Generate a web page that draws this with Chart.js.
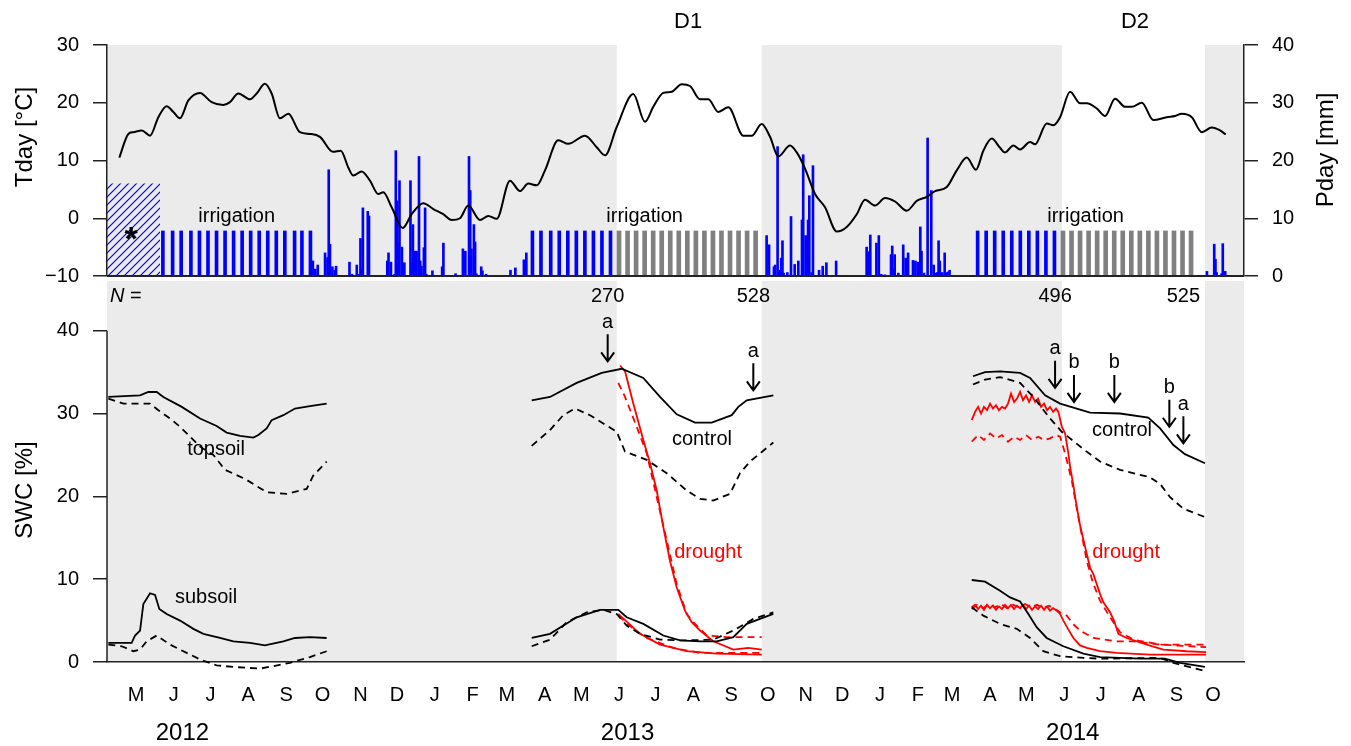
<!DOCTYPE html>
<html><head><meta charset="utf-8">
<script src="https://cdn.jsdelivr.net/npm/chart.js"></script>
<style>
html,body{margin:0;padding:0;background:#fff;}
#wrap{position:relative;width:1351px;height:746px;overflow:hidden;}
canvas{position:absolute;left:0;top:0;}
</style></head><body>
<div id="wrap"><canvas id="topc" width="1351" height="746"></canvas><canvas id="botc" width="1351" height="746"></canvas></div>
<script>
// ---------------- DATA (x = days since 2012-01-01) ----------------
const monthTicks = [121,152,182,213,244,274,305,335,366,397,425,456,486,517,547,578,609,639,670,700,731,762,790,821,851,882,912,943,974,1004];
const monthLabels = ['M','J','J','A','S','O','N','D','J','F','M','A','M','J','J','A','S','O','N','D','J','F','M','A','M','J','J','A','S','O'];
const yearLabels = ['2012','2013','2014'];
const yearDays = [159, 524, 889];
const tempTicks = [-10,0,10,20,30];
const precipTicks = [0,10,20,30,40];
const swcTicks = [0,10,20,30,40];

const droughtStart = [515.1, 880.2];
const droughtEnd = [634.0, 997.4];
const droughtLabels = ['D1','D2'];
const droughtLabelDays = [573.6, 940.0];

// daily air temperature (smoothed)
const tempDay = [107.3,114.7,118.8,125.7,132.5,139.3,146.1,151.6,157.0,163.9,173.4,183.0,192.6,198.0,204.9,214.4,219.9,226.7,232.2,239.0,245.9,255.4,263.6,271.8,282.5,288.9,295.0,299.1,306.0,312.8,319.6,323.7,330.6,339.6,347.0,356.5,364.7,372.9,379.8,386.6,393.4,403.0,409.8,416.7,427.6,435.8,442.6,449.5,456.3,467.2,475.4,489.1,498.7,505.5,515.1,528.7,538.3,545.1,553.3,560.2,568.4,575.2,583.4,590.2,598.4,606.6,618.9,625.8,634.0,640.8,647.6,657.2,662.7,669.5,677.7,685.9,695.5,703.7,711.9,718.7,726.9,735.1,743.3,752.9,761.1,769.3,776.1,785.7,793.9,802.1,809.7,815.7,822.6,829.4,833.5,840.3,845.8,854.0,858.1,867.7,873.1,878.6,886.8,895.0,900.5,908.7,915.5,923.7,931.9,937.4,945.6,955.1,966.1,972.9,978.4,986.6,994.8,1003.0,1009.8,1014.4];
const tempVal = [10.5,14.6,14.9,15.2,14.3,17.5,19.4,18.4,17.3,20.4,21.7,20.1,19.6,20.1,21.6,20.6,21.6,23.3,21.6,17.3,18.1,14.9,14.6,14.1,11.5,11.7,8.8,7.4,8.1,6.5,4.2,4.5,1.9,-1.7,0.7,2.6,1.6,0.7,-0.3,0.0,2.2,-0.3,0.4,-0.1,6.5,4.7,6.0,5.7,8.3,13.5,12.9,14.3,12.3,10.9,15.8,21.5,16.7,19.3,21.7,21.9,23.2,22.9,20.6,20.6,18.4,19.2,14.3,14.3,16.3,14.1,10.7,12.6,11.4,8.6,4.2,1.9,-2.3,-1.5,0.7,3.2,2.2,3.5,2.9,1.3,3.0,3.7,4.7,5.4,8.3,10.5,8.4,11.7,13.8,12.2,11.4,12.6,11.9,13.2,12.8,16.4,16.1,17.5,21.9,19.9,19.9,19.0,17.7,20.7,19.3,19.3,20.0,17.0,17.5,17.7,18.1,17.5,14.9,15.7,15.2,14.5];

// daily precipitation
const rainDay = [266,268,270,276,278,279,280,282,284,285,296,298,302,303,305,306,307,311,312,327,328,330,333,334,335,336,337,339,341,346,347,348,350,351,353,354,355,357,358,359,364,372,373,383,389,391,394,395,396,398,399,400,404,405,408,428,432,439,441,638,640,644,645,647,648,650,651,652,655,658,661,664,667,668,670,671,672,673,675,676,681,684,687,695,720,721,723,728,730,732,735,740,741,742,743,746,750,752,754,758,760,762,764,765,767,770,773,775,777,778,779,780,782,784,785,787,788,999,1005,1006,1007,1011,1012,1014];
const rainMm = [2.6,1.2,1.9,4.0,3.2,18.4,5.5,1.6,1.0,1.7,2.4,0.3,1.9,0.3,6.5,1.2,11.8,11.2,10.4,2.6,4.0,2.4,0.3,21.7,13.0,5.8,16.5,5.0,2.3,16.5,2.3,8.9,4.3,4.3,20.7,2.6,1.7,4.9,11.8,0.3,0.9,1.6,5.7,0.4,4.7,4.3,20.7,14.8,4.7,8.9,5.9,0.4,1.6,0.9,0.3,1.0,1.4,2.8,4.0,7.0,5.4,1.6,1.9,22.4,1.0,3.1,6.1,0.5,0.6,10.3,2.0,2.6,9.7,21.0,7.0,6.0,9.7,13.9,0.6,19.1,1.0,1.7,2.3,2.6,5.0,4.2,7.1,5.7,7.0,0.3,0.2,3.7,5.2,1.2,3.7,0.5,5.4,3.1,4.0,2.7,2.6,2.4,8.5,4.3,0.5,23.9,14.8,1.9,0.5,0.6,6.1,2.6,0.6,4.0,0.6,0.7,1.0,0.8,5.5,2.9,0.6,0.4,5.6,0.8];

// weekly irrigation (all plots = blue, control plots only = grey)
const irrigationAllDays = [143,151,158,166,173,180,187,194,201,208,215,222,229,236,243,251,257,264,446,453,461,468,475,482,489,496,503,510,811,818,825,832,839,846,853,860,867,874];
const irrigationCtrlDays = [517,524,531,538,545,552,559,566,573,580,587,594,601,608,615,622,629,881,888,895,902,909,916,923,930,937,944,951,958,965,972,979,986];
const irrigationMm = 7.8;
const irrigationLabelDays = [203.5, 538.0, 899.5];
const irrigationLabelMm = 10.3;
const hatchDays = [95.0, 140.7];
const hatchMm = 16.0;
const starDay = 116.9;

// soil water content [%] : [day, value]
const top12Solid = [[98.3,32.0],[124.3,32.2],[131.1,32.6],[138.0,32.6],[143.4,32.0],[158.5,30.8],[173.5,29.4],[187.1,28.5],[195.3,27.7],[206.3,27.3],[217.2,27.1],[221.3,27.4],[228.1,28.2],[232.2,29.2],[241.8,29.8],[251.3,30.6],[263.6,30.9],[277.3,31.2]];
const top12Dashed = [[98.3,31.8],[110.6,31.2],[132.5,31.2],[139.3,30.4],[148.9,29.4],[157.1,28.4],[165.3,27.2],[173.5,26.0],[184.4,25.0],[194.0,23.2],[210.4,22.1],[228.1,20.5],[244.5,20.3],[260.9,20.9],[266.3,22.5],[277.3,24.2]];
const sub12Solid = [[98.3,2.3],[117.4,2.3],[120.2,3.2],[124.3,3.8],[127.0,7.0],[132.5,8.3],[136.6,8.1],[140.1,6.4],[146.1,5.8],[157.1,5.0],[168.0,4.0],[176.2,3.4],[189.8,2.9],[200.8,2.5],[214.4,2.3],[226.7,2.0],[241.8,2.5],[251.3,2.9],[263.6,3.0],[277.3,2.9]];
const sub12Dashed = [[98.3,2.1],[109.3,1.9],[118.8,1.3],[124.3,1.5],[129.7,2.5],[138.0,3.2],[148.9,2.1],[159.8,1.3],[173.5,0.3],[187.1,-0.4],[200.8,-0.6],[222.6,-0.8],[233.6,-0.5],[247.2,-0.1],[263.6,0.6],[277.3,1.3]];

const top13Ctrl = [[445.4,31.6],[460.4,32.0],[482.3,33.7],[502.8,34.9],[519.2,35.4],[536.9,34.3],[550.6,32.0],[564.3,29.9],[579.3,28.9],[593.0,28.9],[609.4,29.8],[614.8,30.8],[621.7,31.6],[643.5,32.2]];
const top13CtrlD = [[445.4,26.1],[460.4,28.0],[471.3,29.8],[480.9,30.6],[493.2,29.8],[504.1,28.8],[515.1,27.8],[521.9,25.4],[539.7,24.4],[556.1,22.8],[572.5,20.7],[583.4,19.7],[594.3,19.5],[608.0,20.3],[616.2,22.8],[624.4,24.2],[643.5,26.5]];
const top13Drt = [[517.8,35.8],[521.9,35.1],[528.7,31.2],[536.9,26.8],[542.4,24.0],[547.9,20.7],[553.3,16.3],[558.8,12.2],[564.3,9.0],[571.1,6.2],[576.6,4.8],[583.4,3.8],[594.3,2.5],[610.7,1.5],[623.0,1.7],[634.0,1.5]];
const top13DrtD = [[516.4,33.7],[521.9,32.0],[531.5,28.4],[539.7,25.2],[547.9,19.9],[556.1,14.7],[564.3,9.4],[572.5,5.8],[577.9,4.8],[588.9,3.2],[605.3,3.0],[634.0,3.0]];
const sub13Ctrl = [[445.4,2.9],[460.4,3.4],[482.3,5.4],[501.4,6.3],[516.4,6.3],[523.3,5.4],[536.9,4.6],[553.3,3.2],[567.0,2.6],[583.4,2.5],[597.1,2.5],[610.7,3.0],[621.7,4.6],[643.5,5.8]];
const sub13CtrlD = [[445.4,1.9],[460.4,2.7],[474.1,4.8],[490.5,6.0],[504.1,6.3],[515.1,5.8],[523.3,4.4],[534.2,3.4],[550.6,2.7],[569.7,2.6],[594.3,2.7],[610.7,3.8],[627.1,5.2],[643.5,6.0]];
const sub13Drt = [[516.4,5.8],[534.2,3.4],[550.6,2.1],[572.5,1.3],[597.1,1.0],[634.0,0.9]];
const sub13DrtD = [[516.4,5.6],[528.7,4.0],[539.7,2.9],[561.5,1.7],[583.4,1.1],[634.0,1.1]];

const top14Ctrl = [[807.2,34.5],[817.1,35.0],[829.4,35.1],[845.8,34.9],[854.0,34.3],[866.3,32.2],[878.6,31.2],[903.2,30.1],[927.8,30.0],[950.9,29.5],[960.6,28.2],[971.5,26.2],[981.0,25.1],[997.4,24.0]];
const top14CtrlD = [[807.2,33.5],[817.1,34.1],[829.4,34.4],[845.8,33.7],[856.7,32.0],[870.4,29.4],[880.0,27.8],[897.7,25.7],[911.4,24.2],[927.8,23.2],[952.3,22.3],[960.6,21.5],[968.8,19.9],[979.7,18.5],[997.4,17.5]];
const top14Drt = [[806.2,29.2],[808.9,30.2],[811.4,30.8],[813.8,30.0],[816.2,30.8],[818.7,30.4],[821.2,31.2],[823.6,30.6],[826.1,31.0],[828.5,30.4],[831.0,30.8],[833.5,30.6],[835.9,31.2],[838.4,32.4],[840.9,31.4],[843.3,31.8],[845.8,32.6],[848.2,31.6],[850.7,32.2],[853.2,31.4],[855.6,32.2],[858.1,31.4],[860.6,31.8],[863.0,30.8],[865.5,31.2],[867.9,30.4],[870.4,30.8],[872.9,30.2],[875.3,30.6],[877.2,30.2],[880.0,28.4],[882.7,27.6],[885.4,25.2],[886.8,23.6],[889.3,21.5],[892.3,18.7],[895.0,16.5],[899.1,13.9],[903.2,11.4],[905.9,10.6],[911.4,8.2],[914.1,7.2],[919.6,6.0],[922.8,5.0],[926.4,3.4],[933.2,2.9],[949.6,2.1],[963.3,1.5],[982.4,1.3],[998.3,1.2]];
const top14DrtD = [[806.2,26.6],[811.4,27.4],[816.2,26.8],[821.2,27.6],[826.1,27.0],[831.0,27.4],[835.9,26.6],[840.9,27.2],[845.8,26.8],[850.7,27.4],[855.6,26.8],[860.6,27.2],[865.5,26.8],[870.4,27.0],[875.3,27.4],[878.6,27.2],[882.7,25.2],[888.2,21.9],[893.6,17.5],[900.5,12.2],[905.7,9.5],[911.4,7.4],[919.6,5.4],[927.8,3.6],[938.7,2.7],[960.6,2.1],[998.3,2.1]];
const sub14Ctrl = [[806.2,9.9],[817.1,9.7],[829.4,8.6],[837.6,7.8],[845.8,7.3],[852.6,5.8],[859.4,4.2],[867.6,2.9],[881.3,1.9],[897.7,1.0],[911.4,0.6],[944.2,0.4],[964.6,0.4],[976.9,-0.1],[997.4,-0.6]];
const sub14CtrlD = [[806.2,6.6],[815.7,5.6],[829.4,4.6],[843.1,4.0],[854.0,2.9],[864.9,1.3],[878.6,0.7],[897.7,0.5],[911.4,0.4],[960.6,0.5],[971.5,-0.1],[997.4,-1.1]];
const sub14Drt = [[806.2,6.6],[808.9,6.9],[811.4,6.4],[813.8,6.8],[816.2,6.3],[818.7,6.9],[821.2,6.5],[823.6,6.8],[826.1,6.3],[828.5,6.7],[831.0,6.4],[833.5,6.9],[835.9,6.5],[838.4,6.9],[840.9,6.4],[843.3,6.8],[845.8,6.5],[848.2,6.9],[850.7,6.4],[853.2,6.8],[855.6,6.3],[858.1,6.7],[860.6,6.4],[863.0,6.8],[865.5,6.3],[867.9,6.7],[870.4,6.2],[872.9,6.5],[875.9,6.2],[878.6,5.8],[881.3,5.0],[885.1,4.0],[889.5,2.9],[895.0,2.0],[900.5,1.7],[911.4,1.3],[925.0,1.1],[952.3,0.9],[998.3,0.9]];
const sub14DrtD = [[806.2,6.4],[810.5,6.9],[815.5,6.5],[820.4,7.0],[825.3,6.6],[830.2,7.0],[835.1,6.5],[840.1,6.9],[845.0,6.6],[849.9,7.0],[854.8,6.6],[859.7,6.9],[864.6,6.5],[869.6,6.8],[874.5,6.4],[878.6,6.0],[884.1,5.6],[889.2,4.6],[895.0,3.8],[905.9,2.9],[925.0,2.5],[938.7,2.5],[960.6,2.1],[998.3,1.8]];

// annotations
const arrowDay = [507.7, 627.1, 874.5, 890.0, 923.1, 968.2, 979.7];
const arrowSwc = [36.3, 32.8, 33.1, 31.4, 31.4, 28.4, 26.4];
const arrowLabel = ['a','a','a','b','b','b','a'];
const nDay = [507.7, 627.1, 874.5, 979.7];
const nLabel = ['270','528','496','525'];
const swcLabels = ['topsoil','subsoil','control','drought','control','drought'];
const swcLabelDay = [186.6, 178.4, 585.0, 590.0, 929.4, 932.7];
const swcLabelVal = [25.6, 7.8, 26.9, 13.2, 27.9, 13.2];
const swcLabelRed = [false, false, false, true, false, true];

// ---------------- CHARTS ----------------
const FONT = "'Liberation Sans', Arial, Helvetica, sans-serif";
Chart.defaults.font.family = FONT;
Chart.defaults.font.size = 20;
Chart.defaults.color = '#000';
const X_MIN = 97.2, X_MAX = 1029.4;
const GREY = '#ebebeb';
const fmt = v => v < 0 ? '\u2212' + Math.abs(v) : String(v);
const pts = arr => arr.map(p => ({x: p[0], y: p[1]}));

const shadePlugin = {
  id: 'shade',
  beforeDraw(chart) {
    const {ctx, chartArea: a} = chart; const x = chart.scales.x;
    ctx.save(); ctx.fillStyle = GREY;
    let s = X_MIN;
    const spans = [];
    for (let i = 0; i < droughtStart.length; i++) { spans.push([s, droughtStart[i]]); s = droughtEnd[i]; }
    spans.push([s, X_MAX]);
    spans.forEach(([a0, a1]) => {
      const p0 = x.getPixelForValue(a0), p1 = x.getPixelForValue(a1);
      ctx.fillRect(p0, a.top, p1 - p0, a.bottom - a.top);
    });
    ctx.restore();
  }
};

function vText(ctx, text, x, y, size) {
  ctx.save(); ctx.translate(x, y); ctx.rotate(-Math.PI / 2);
  ctx.textAlign = 'center'; ctx.textBaseline = 'middle'; ctx.font = size + 'px ' + FONT;
  ctx.fillStyle = '#000'; ctx.fillText(text, 0, 0); ctx.restore();
}

const topText = {
  id: 'topText',
  afterDraw(chart) {
    const {ctx, chartArea: a} = chart; const x = chart.scales.x, yP = chart.scales.yP;
    ctx.save();
    ctx.strokeStyle = '#222'; ctx.lineWidth = 2;
    ctx.beginPath(); ctx.moveTo(a.left, a.bottom); ctx.lineTo(a.right, a.bottom); ctx.stroke();
    ctx.fillStyle = '#000'; ctx.textAlign = 'center'; ctx.textBaseline = 'middle';
    ctx.font = '22px ' + FONT;
    droughtLabels.forEach((t, i) => ctx.fillText(t, x.getPixelForValue(droughtLabelDays[i]), 22));
    ctx.font = '20px ' + FONT;
    irrigationLabelDays.forEach(d => ctx.fillText('irrigation', x.getPixelForValue(d), yP.getPixelForValue(irrigationLabelMm)));
    ctx.font = 'bold 34px ' + FONT; ctx.textBaseline = 'alphabetic';
    ctx.fillText('*', x.getPixelForValue(starDay), yP.getPixelForValue(irrigationMm) + 19);
    ctx.restore();
    vText(ctx, 'Tday [\u00B0C]', 25, 137, 24);
    vText(ctx, 'Pday [mm]', 1326, 150, 24);
  }
};

const topCtx = document.getElementById('topc').getContext('2d');
function makeHatch() {
  const c = document.createElement('canvas'); c.width = 8; c.height = 8;
  const g = c.getContext('2d');
  g.strokeStyle = '#0000ff'; g.lineWidth = 1.2;
  g.beginPath();
  g.moveTo(0, 8); g.lineTo(8, 0);
  g.moveTo(-4, 4); g.lineTo(4, -4);
  g.moveTo(4, 12); g.lineTo(12, 4);
  g.stroke();
  return topCtx.createPattern(c, 'repeat');
}

const yAxisCommon = (min, max, ticks, pos) => ({
  position: pos, min: min, max: max,
  afterBuildTicks: s => { s.ticks = ticks.map(v => ({value: v})); },
  afterFit: s => { s.width = 107; },
  ticks: {padding: 14, callback: v => fmt(v), font: {size: 20}, color: '#000'},
  grid: {drawOnChartArea: false, drawTicks: true, tickLength: 14, color: '#222', lineWidth: 1.5},
  border: {display: true, color: '#222', width: 1.5}
});

new Chart(topCtx, {
  type: 'bar',
  data: {datasets: [
    {type: 'line', data: tempDay.map((d, i) => ({x: d, y: tempVal[i]})), yAxisID: 'yT', borderColor: '#000', borderWidth: 2,
     pointRadius: 0, cubicInterpolationMode: 'monotone', order: 0},
    {type: 'bar', data: rainDay.map((d, i) => ({x: d, y: rainMm[i]})), yAxisID: 'yP', backgroundColor: '#0000ff',
     barThickness: 2, grouped: false, borderWidth: 0, order: 1},
    {type: 'bar', data: irrigationAllDays.map(d => ({x: d, y: irrigationMm})), yAxisID: 'yP', backgroundColor: '#0000ff',
     barThickness: 3, grouped: false, borderWidth: 0, order: 2},
    {type: 'bar', data: irrigationCtrlDays.map(d => ({x: d, y: irrigationMm})), yAxisID: 'yP', backgroundColor: '#808080',
     barThickness: 4, grouped: false, borderWidth: 0, order: 2},
    {type: 'line', data: hatchDays.map(d => ({x: d, y: hatchMm})), yAxisID: 'yP', fill: 'origin', backgroundColor: makeHatch(),
     borderWidth: 0, pointRadius: 0, order: 3, clip: false}
  ]},
  options: {
    responsive: false, animation: false, events: [],
    layout: {padding: {top: 45, bottom: 470, left: 0, right: 0}},
    plugins: {legend: {display: false}, tooltip: {enabled: false}},
    scales: {
      x: {type: 'linear', min: X_MIN, max: X_MAX, display: false, offset: false},
      yT: yAxisCommon(-10, 30, tempTicks, 'left'),
      yP: yAxisCommon(0, 40, precipTicks, 'right')
    }
  },
  plugins: [shadePlugin, topText]
});

const botText = {
  id: 'botText',
  afterDraw(chart) {
    const {ctx, chartArea: a} = chart; const x = chart.scales.x, y = chart.scales.y;
    ctx.save();
    // y axis line 0..40
    ctx.strokeStyle = '#222'; ctx.lineWidth = 1.5;
    ctx.beginPath(); ctx.moveTo(a.left, y.getPixelForValue(0)); ctx.lineTo(a.left, y.getPixelForValue(40)); ctx.stroke();
    ctx.fillStyle = '#000'; ctx.textBaseline = 'middle';
    // N =
    ctx.textAlign = 'left';
    ctx.font = 'italic 20px ' + FONT; ctx.fillText('N', 110, 296);
    const w = ctx.measureText('N').width;
    ctx.font = '20px ' + FONT; ctx.fillText(' =', 110 + w, 296);
    ctx.textAlign = 'center';
    nLabel.forEach((t, i) => ctx.fillText(t, x.getPixelForValue(nDay[i]), 296));
    // arrows
    ctx.strokeStyle = '#000'; ctx.lineWidth = 2;
    arrowDay.forEach((d, i) => {
      const px = x.getPixelForValue(d), tip = y.getPixelForValue(arrowSwc[i]), top = tip - 27;
      ctx.beginPath(); ctx.moveTo(px, top); ctx.lineTo(px, tip);
      ctx.moveTo(px - 6.5, tip - 9); ctx.lineTo(px, tip); ctx.lineTo(px + 6.5, tip - 9); ctx.stroke();
      ctx.fillText(arrowLabel[i], px, top - 12);
    });
    swcLabels.forEach((t, i) => {
      ctx.fillStyle = swcLabelRed[i] ? '#ff0000' : '#000';
      ctx.fillText(t, x.getPixelForValue(swcLabelDay[i]), y.getPixelForValue(swcLabelVal[i]));
    });
    ctx.fillStyle = '#000'; ctx.font = '24px ' + FONT;
    yearLabels.forEach((t, i) => ctx.fillText(t, x.getPixelForValue(yearDays[i]), 733));
    ctx.restore();
    vText(ctx, 'SWC [%]', 25, 490, 24);
  }
};

const lineSets = [
  [top12Solid, '#000', false], [top12Dashed, '#000', true], [sub12Solid, '#000', false], [sub12Dashed, '#000', true],
  [top13Ctrl, '#000', false], [top13CtrlD, '#000', true], [sub13Ctrl, '#000', false], [sub13CtrlD, '#000', true],
  [top13Drt, '#ff0000', false], [top13DrtD, '#ff0000', true], [sub13Drt, '#ff0000', false], [sub13DrtD, '#ff0000', true],
  [top14Ctrl, '#000', false], [top14CtrlD, '#000', true], [sub14Ctrl, '#000', false], [sub14CtrlD, '#000', true],
  [top14Drt, '#ff0000', false], [top14DrtD, '#ff0000', true], [sub14Drt, '#ff0000', false], [sub14DrtD, '#ff0000', true]
];

new Chart(document.getElementById('botc'), {
  type: 'line',
  data: {datasets: lineSets.map(([arr, col, dashed]) => ({
    data: pts(arr), borderColor: col, borderWidth: 1.8, borderDash: dashed ? [7, 5] : [],
    pointRadius: 0, tension: 0, clip: false, fill: false
  }))},
  options: {
    responsive: false, animation: false, events: [],
    layout: {padding: {top: 281, bottom: 0, left: 0, right: 107}},
    plugins: {legend: {display: false}, tooltip: {enabled: false}},
    scales: {
      x: {type: 'linear', min: X_MIN, max: X_MAX, offset: false,
          afterBuildTicks: s => { s.ticks = monthTicks.map(v => ({value: v})); },
          afterFit: s => { s.height = 84; },
          ticks: {autoSkip: false, maxRotation: 0, minRotation: 0, padding: 21, callback: (v, i) => monthLabels[i], font: {size: 20}, color: '#000'},
          grid: {display: false, drawTicks: false},
          border: {display: true, color: '#222', width: 1.5}},
      y: {position: 'left', min: 0, max: 46,
          afterBuildTicks: s => { s.ticks = swcTicks.map(v => ({value: v})); },
          afterFit: s => { s.width = 107; },
          ticks: {padding: 14, font: {size: 20}, color: '#000'},
          grid: {drawOnChartArea: false, drawTicks: true, tickLength: 14, color: '#222', lineWidth: 1.5},
          border: {display: false}}
    }
  },
  plugins: [shadePlugin, botText]
});
</script>
</body></html>
